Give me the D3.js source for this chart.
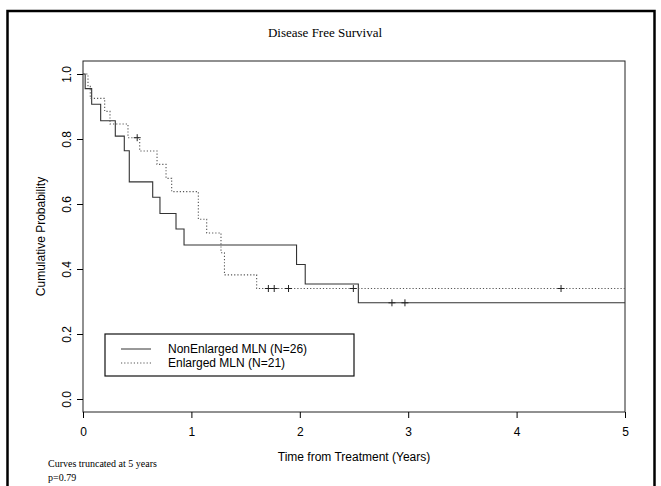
<!DOCTYPE html>
<html lang="en">
<head>
    <meta charset="UTF-8">
    <title>Disease Free Survival</title>
    <script src="https://d3js.org/d3.v7.min.js"></script>
    <style>
        body { margin: 0; background: #fff; }
        .sans { font-family: "Liberation Sans", Arial, sans-serif; }
        .serif { font-family: "Liberation Serif", "Times New Roman", serif; }
    </style>
</head>
<body>
    <svg id="chart" width="661" height="486"></svg>

    <script>
        // Kaplan-Meier step data
        const nonEnlargedTimes = [0, 0.02, 0.08, 0.163, 0.298, 0.381, 0.427, 0.643, 0.71, 0.858, 0.932, 1.97, 2.05, 2.54];
        const nonEnlargedSurv = [1.0, 0.955, 0.907, 0.856, 0.809, 0.764, 0.668, 0.621, 0.571, 0.523, 0.474, 0.414, 0.354, 0.296];
        const nonEnlargedCensor = [2.85, 2.97];

        const enlargedTimes = [0, 0.046, 0.067, 0.2, 0.249, 0.415, 0.523, 0.683, 0.766, 0.818, 1.064, 1.141, 1.273, 1.305, 1.602];
        const enlargedSurv = [1.0, 0.962, 0.925, 0.885, 0.846, 0.804, 0.763, 0.722, 0.679, 0.638, 0.553, 0.511, 0.45, 0.382, 0.34];
        const enlargedCensor = [0.5, 1.71, 1.764, 1.896, 2.494, 4.41];

        const xTicks = [0, 1, 2, 3, 4, 5];
        const yTicks = [0, 0.2, 0.4, 0.6, 0.8, 1.0];
        const seriesNames = ["NonEnlarged MLN (N=26)", "Enlarged MLN (N=21)"];

        const svg = d3.select("#chart");

        // outer frame
        svg.append("rect")
            .attr("x", 7.5).attr("y", 11)
            .attr("width", 647).attr("height", 490)
            .attr("fill", "none")
            .attr("stroke", "#000")
            .attr("stroke-width", 2.5);

        // plot area
        const plotLeft = 83, plotRight = 625, plotTop = 61, plotBottom = 412;
        const x = d3.scaleLinear().domain([0, 5]).range([plotLeft, plotRight]);
        const y = d3.scaleLinear().domain([-0.04, 1.04]).range([plotBottom, plotTop]);

        svg.append("text")
            .attr("class", "serif")
            .attr("x", 325).attr("y", 37)
            .attr("text-anchor", "middle")
            .style("font-size", "13px")
            .text("Disease Free Survival");

        // box
        svg.append("rect")
            .attr("x", plotLeft).attr("y", plotTop)
            .attr("width", plotRight - plotLeft).attr("height", plotBottom - plotTop)
            .attr("fill", "none")
            .attr("stroke", "#222")
            .attr("stroke-width", 1);

        // x axis
        const xAxis = svg.append("g")
            .attr("transform", `translate(0,${plotBottom})`)
            .call(d3.axisBottom(x).tickValues(xTicks).tickFormat(d3.format("d")).tickSize(6).tickPadding(9));
        xAxis.select(".domain").remove();
        xAxis.selectAll("text")
            .attr("fill", "#000")
            .style("font-size", "12px")
            .style("font-family", "Liberation Sans, Arial, sans-serif");

        // y axis with rotated labels
        const yAxis = svg.append("g")
            .attr("transform", `translate(${plotLeft},0)`)
            .call(d3.axisLeft(y).tickValues(yTicks).tickFormat(d3.format(".1f")).tickSize(6));
        yAxis.select(".domain").remove();
        yAxis.selectAll("text")
            .attr("x", null).attr("dy", "0.35em")
            .attr("text-anchor", "middle")
            .attr("transform", "translate(-16,0) rotate(-90)")
            .attr("fill", "#000")
            .style("font-size", "12px")
            .style("font-family", "Liberation Sans, Arial, sans-serif");

        svg.append("text")
            .attr("class", "sans")
            .attr("transform", `translate(45,${(plotTop + plotBottom) / 2}) rotate(-90)`)
            .attr("text-anchor", "middle")
            .style("font-size", "12px")
            .text("Cumulative Probability");

        svg.append("text")
            .attr("class", "sans")
            .attr("x", (plotLeft + plotRight) / 2).attr("y", 461)
            .attr("text-anchor", "middle")
            .style("font-size", "12px")
            .text("Time from Treatment (Years)");

        // survival curves
        const step = d3.line()
            .x(d => x(d[0]))
            .y(d => y(d[1]))
            .curve(d3.curveStepAfter);

        const groups = [
            { times: nonEnlargedTimes, surv: nonEnlargedSurv, censor: nonEnlargedCensor, color: "#333", dash: null },
            { times: enlargedTimes, surv: enlargedSurv, censor: enlargedCensor, color: "#555", dash: "1.2,2" }
        ];

        groups.forEach(g => {
            const pts = g.times.map((t, i) => [t, g.surv[i]]);
            pts.push([5, g.surv[g.surv.length - 1]]);
            svg.append("path")
                .datum(pts)
                .attr("d", step)
                .attr("fill", "none")
                .attr("stroke", g.color)
                .attr("stroke-width", 1.1)
                .attr("stroke-dasharray", g.dash);

            // censor marks
            const survAt = t => {
                let s = g.surv[0];
                g.times.forEach((tt, i) => { if (tt <= t) s = g.surv[i]; });
                return s;
            };
            g.censor.forEach(t => {
                const cx = x(t), cy = y(survAt(t));
                svg.append("path")
                    .attr("d", `M${cx - 3.5},${cy}H${cx + 3.5}M${cx},${cy - 3.5}V${cy + 3.5}`)
                    .attr("stroke", "#222")
                    .attr("stroke-width", 1);
            });
        });

        // legend
        const legend = svg.append("g").attr("class", "sans");
        legend.append("rect")
            .attr("x", 105).attr("y", 334)
            .attr("width", 249).attr("height", 42)
            .attr("fill", "#fff")
            .attr("stroke", "#111")
            .attr("stroke-width", 1.2);

        seriesNames.forEach((name, i) => {
            const ly = 349 + i * 14;
            legend.append("line")
                .attr("x1", 121).attr("x2", 151)
                .attr("y1", ly).attr("y2", ly)
                .attr("stroke", groups[i].color)
                .attr("stroke-width", 1)
                .attr("stroke-dasharray", groups[i].dash);
            legend.append("text")
                .attr("x", 168).attr("y", ly + 4)
                .style("font-size", "12px")
                .text(name);
        });

        // footnote
        svg.append("text")
            .attr("class", "serif")
            .attr("x", 48).attr("y", 467)
            .style("font-size", "10px")
            .text("Curves truncated at 5 years");
        svg.append("text")
            .attr("class", "serif")
            .attr("x", 48).attr("y", 481)
            .style("font-size", "10px")
            .text("p=0.79");
    </script>
</body>
</html>
